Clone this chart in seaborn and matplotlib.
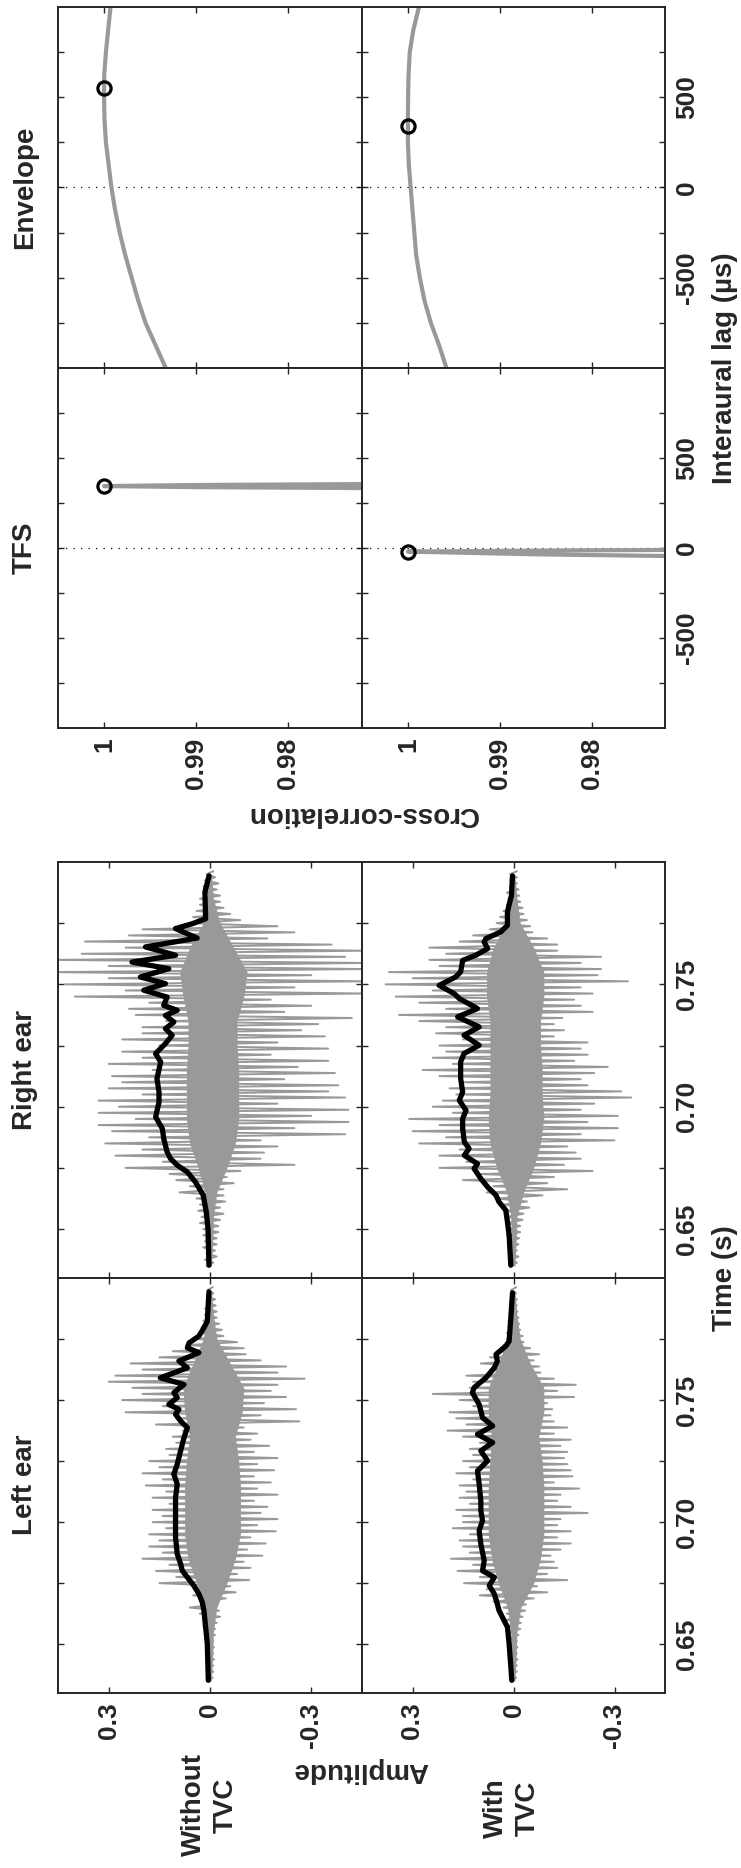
import numpy as np
import matplotlib
matplotlib.use("Agg")
import matplotlib.pyplot as plt
import seaborn as sns

# ------------------------------------------------------------------ data
# black (low-frequency) traces: time (s) and amplitude
rw_line_t = [0.6352, 0.6502, 0.6570, 0.6638, 0.6692, 0.6733, 0.6761, 0.6788, 0.6815, 0.6870,
             0.6910, 0.6958, 0.7019, 0.7060, 0.7115, 0.7183, 0.7217, 0.7258, 0.7292, 0.7319,
             0.7346, 0.7373, 0.7394, 0.7414, 0.7448, 0.7476, 0.7503, 0.7530, 0.7564, 0.7591,
             0.7619, 0.7653, 0.7689, 0.7728, 0.7748, 0.7768, 0.7877, 0.7943]
rw_line_a = [0.003, 0.006, 0.011, 0.020, 0.043, 0.067, 0.097, 0.117, 0.127, 0.137,
             0.141, 0.161, 0.151, 0.151, 0.157, 0.146, 0.161, 0.132, 0.112, 0.132,
             0.107, 0.132, 0.097, 0.137, 0.127, 0.196, 0.132, 0.206, 0.122, 0.231,
             0.102, 0.191, 0.038, 0.102, 0.052, 0.013, 0.015, 0.003]

rt_line_t = [0.6352, 0.6475, 0.6529, 0.6577, 0.6611, 0.6638, 0.6672, 0.6706, 0.6747, 0.6767,
             0.6801, 0.6829, 0.6856, 0.6910, 0.6951, 0.6985, 0.7026, 0.7060, 0.7115, 0.7183,
             0.7217, 0.7251, 0.7292, 0.7326, 0.7367, 0.7401, 0.7442, 0.7462, 0.7496, 0.7530,
             0.7551, 0.7598, 0.7619, 0.7646, 0.7673, 0.7687, 0.7714, 0.7741, 0.7796, 0.7864,
             0.7943]
rt_line_a = [0.008, 0.013, 0.018, 0.023, 0.043, 0.052, 0.077, 0.097, 0.117, 0.107,
             0.146, 0.132, 0.146, 0.151, 0.151, 0.141, 0.161, 0.151, 0.157, 0.157,
             0.147, 0.102, 0.147, 0.102, 0.166, 0.107, 0.161, 0.176, 0.221, 0.172,
             0.157, 0.151, 0.112, 0.077, 0.087, 0.082, 0.038, 0.018, 0.018, 0.006,
             0.003]

lw_line_t = [0.6352, 0.6502, 0.6570, 0.6638, 0.6672, 0.6706, 0.6740, 0.6774, 0.6801, 0.6829,
             0.6870, 0.6938, 0.7019, 0.7101, 0.7156, 0.7196, 0.7237, 0.7292, 0.7346, 0.7387,
             0.7414, 0.7442, 0.7462, 0.7482, 0.7510, 0.7530, 0.7564, 0.7591, 0.7632, 0.7660,
             0.7694, 0.7714, 0.7734, 0.7762, 0.7796, 0.7823, 0.7943]
lw_line_a = [0.005, 0.008, 0.013, 0.018, 0.023, 0.033, 0.048, 0.067, 0.082, 0.087,
             0.097, 0.102, 0.102, 0.102, 0.097, 0.107, 0.097, 0.087, 0.077, 0.067,
             0.087, 0.102, 0.092, 0.122, 0.097, 0.107, 0.077, 0.147, 0.067, 0.092,
             0.033, 0.067, 0.062, 0.033, 0.018, 0.008, 0.003]

lt_line_t = [0.6352, 0.6502, 0.6570, 0.6597, 0.6638, 0.6665, 0.6706, 0.6740, 0.6774, 0.6801,
             0.6842, 0.6910, 0.6965, 0.7006, 0.7047, 0.7087, 0.7156, 0.7210, 0.7251, 0.7292,
             0.7326, 0.7360, 0.7394, 0.7428, 0.7482, 0.7530, 0.7551, 0.7591, 0.7632, 0.7660,
             0.7687, 0.7721, 0.7741, 0.7837, 0.7939]
lt_line_a = [0.005, 0.013, 0.018, 0.028, 0.043, 0.048, 0.057, 0.072, 0.057, 0.092,
             0.087, 0.097, 0.102, 0.092, 0.097, 0.097, 0.102, 0.107, 0.077, 0.097,
             0.062, 0.107, 0.062, 0.092, 0.102, 0.122, 0.117, 0.082, 0.057, 0.048,
             0.052, 0.023, 0.013, 0.008, 0.003]

# grey fine-structure waveform: positive / negative spike extents,
# one pair every 2.5 ms starting at 0.635 s
spike_t0 = 0.635
spike_dt = 0.0025
rw_pos = [.010, .015, .010, .020, .015, .020, .020, .030, .025, .035, .030, .040, .090, .060, .100, .120,
          .250, .140, .280, .200, .310, .180, .290, .330, .220, .330, .270, .330, .200, .300, .260, .290,
          .170, .300, .200, .260, .150, .260, .200, .200, .130, .220, .240, .180, .400, .250, .430, .300,
          .460, .300, .460, .380, .250, .370, .240, .200, .060, .050, .040, .030, .030, .020, .020, .015, .010]
rw_neg = [.010, .020, .015, .020, .020, .025, .025, .030, .040, .030, .045, .040, .040, .070, .050, .090,
          .250, .150, .160, .200, .150, .400, .250, .410, .300, .410, .200, .400, .350, .380, .220, .370,
          .260, .350, .180, .350, .200, .340, .270, .320, .420, .220, .300, .180, .460, .250, .460, .300,
          .460, .460, .400, .460, .360, .170, .250, .200, .090, .060, .040, .030, .030, .020, .025, .015, .010]
rt_pos = [.010, .010, .015, .010, .015, .020, .015, .020, .020, .025, .030, .050, .080, .060, .150, .100,
          .220, .140, .220, .160, .280, .200, .300, .220, .310, .180, .240, .210, .170, .190, .150, .220,
          .270, .180, .240, .200, .220, .150, .230, .200, .280, .340, .200, .280, .350, .240, .380, .300,
          .370, .220, .250, .200, .250, .160, .120, .070, .050, .040, .030, .020, .015, .020, .010, .010, .010]
rt_neg = [.010, .015, .010, .015, .017, .020, .020, .027, .030, .047, .040, .086, .160, .100, .120, .235,
          .150, .200, .185, .160, .300, .200, .310, .220, .310, .200, .240, .350, .320, .220, .200, .240,
          .280, .180, .220, .200, .220, .120, .150, .120, .145, .235, .200, .180, .235, .200, .340, .250,
          .260, .200, .260, .130, .130, .100, .056, .050, .040, .030, .027, .020, .017, .015, .010, .010, .010]
lw_pos = [.008, .010, .008, .012, .010, .012, .012, .015, .010, .020, .020, .030, .060, .030, .050, .040,
          .150, .100, .160, .120, .200, .140, .180, .150, .180, .130, .170, .140, .170, .120, .170, .130,
          .190, .140, .200, .150, .180, .120, .130, .100, .110, .080, .160, .100, .250, .140, .260, .200,
          .230, .300, .280, .200, .235, .150, .110, .070, .040, .030, .025, .020, .015, .015, .010, .010, .008]
lw_neg = [.008, .010, .010, .012, .010, .012, .010, .015, .015, .020, .030, .027, .020, .047, .076, .060,
          .116, .080, .120, .100, .155, .110, .165, .120, .195, .140, .200, .150, .170, .130, .200, .140,
          .180, .130, .190, .140, .200, .130, .175, .120, .140, .100, .265, .150, .255, .160, .225, .180,
          .200, .280, .200, .225, .150, .106, .100, .080, .040, .035, .027, .020, .020, .017, .015, .010, .008]
lt_pos = [.008, .010, .008, .010, .012, .010, .012, .010, .015, .015, .020, .020, .030, .060, .100, .080,
          .147, .100, .166, .120, .186, .130, .150, .160, .130, .180, .150, .150, .170, .130, .160, .140,
          .160, .120, .170, .130, .150, .120, .130, .100, .150, .196, .140, .170, .190, .120, .160, .240,
          .130, .120, .140, .070, .097, .070, .050, .030, .020, .020, .015, .015, .010, .010, .010, .008, .008]
lt_neg = [.008, .010, .010, .012, .010, .012, .010, .015, .020, .022, .027, .035, .037, .060, .100, .070,
          .160, .100, .130, .120, .110, .140, .170, .130, .170, .130, .140, .220, .170, .130, .140, .195,
          .120, .175, .170, .160, .150, .160, .140, .170, .120, .160, .120, .110, .115, .100, .180, .130,
          .185, .120, .080, .076, .060, .076, .050, .030, .027, .020, .017, .015, .012, .010, .010, .008, .008]

# dense grey core of the waveform (every 10 ms from 0.635 s)
core_t = [0.635, 0.645, 0.655, 0.665, 0.675, 0.685, 0.695, 0.705, 0.715,
          0.725, 0.735, 0.745, 0.755, 0.765, 0.775, 0.785, 0.795]
rw_core_pos = [.004, .006, .008, .015, .035, .060, .070, .070, .070, .065, .065, .080, .090, .060, .020, .008, .004]
rw_core_neg = [.004, .008, .010, .020, .050, .075, .085, .085, .085, .080, .080, .100, .110, .070, .030, .010, .004]
rt_core_pos = [.004, .006, .008, .020, .050, .070, .075, .070, .070, .070, .070, .080, .080, .060, .020, .008, .004]
rt_core_neg = [.004, .008, .010, .030, .060, .080, .090, .085, .085, .080, .080, .090, .090, .060, .020, .010, .004]
lw_core_pos = [.004, .006, .008, .015, .040, .065, .075, .075, .075, .070, .060, .075, .080, .050, .020, .008, .004]
lw_core_neg = [.004, .008, .010, .020, .050, .075, .090, .090, .090, .085, .075, .095, .100, .060, .020, .010, .004]
lt_core_pos = [.004, .006, .008, .018, .045, .065, .075, .075, .075, .070, .065, .075, .075, .045, .018, .008, .004]
lt_core_neg = [.004, .008, .010, .022, .060, .080, .090, .090, .090, .085, .075, .090, .090, .050, .020, .010, .004]

# cross-correlation functions: lag (us) and correlation
env_lag = [-1000, -875, -750, -625, -500, -375, -250, -125, 0, 125, 250, 375, 500, 625, 750, 875, 1000]
env_wo = [0.9933, 0.9944, 0.9955, 0.9963, 0.9970, 0.9977, 0.9983, 0.9988, 0.9992, 0.9995,
          0.9998, 0.99995, 1.0000, 0.99998, 0.9998, 0.99955, 0.9993]
env_w = [0.9958, 0.9966, 0.9975, 0.9982, 0.9987, 0.9991, 0.9993, 0.9995, 0.9997, 0.9999,
         1.0000, 1.0000, 0.99998, 0.99993, 0.9998, 0.9994, 0.9988]
tfs_wo_lag = [331, 338, 344, 350, 357]
tfs_wo = [0.965, 0.990, 1.000, 0.990, 0.965]
tfs_w_lag = [-52, -36, -20, -14, -8]
tfs_w = [0.960, 0.985, 1.000, 0.985, 0.960]
peak_env = [(550, 1.0), (339, 1.0)]
peak_tfs = [(344, 1.0), (-20, 1.0)]

time_ticks = [0.65, 0.675, 0.70, 0.725, 0.75, 0.775]
time_labels = ["0.65", "", "0.70", "", "0.75", ""]
amp_ticks = [0.3, 0.0, -0.3]
amp_labels = ["0.3", "0", "-0.3"]
lag_ticks = [-750, -500, -250, 0, 250, 500, 750]
lag_labels = ["", "-500", "", "0", "", "500", ""]
corr_ticks = [1.0, 0.99, 0.98]
corr_labels = ["1", "0.99", "0.98"]

# ------------------------------------------------------------------ style
sns.set_style("ticks")
plt.rcParams["font.family"] = ["Liberation Sans", "DejaVu Sans"]
plt.rcParams["font.weight"] = "bold"
plt.rcParams["axes.linewidth"] = 1.4

GREY = "#999999"
FS_TICK = 19
FS_LAB = 20

W, H = 741, 1868
fig = plt.figure(figsize=(W / 100, H / 100), dpi=100)


def box(x0, y0, x1, y1):
    return [x0 / W, 1 - y1 / H, (x1 - x0) / W, (y1 - y0) / H]


colx = [(58, 362), (362, 665)]
rows = {"env": (7, 368), "tfs": (368, 728), "right": (862, 1278), "left": (1278, 1693)}


def style(ax):
    ax.tick_params(which="both", direction="in", length=4, width=1.0,
                   top=True, bottom=True, left=True, right=True,
                   labelsize=FS_TICK, pad=7)
    for lab in ax.get_xticklabels() + ax.get_yticklabels():
        lab.set_fontweight("bold")
    ax.set_xlabel("")
    ax.set_ylabel("")


def zigzag(pos, neg):
    n = len(pos)
    t = spike_t0 + spike_dt * np.arange(n)
    tt = np.empty(2 * n)
    aa = np.empty(2 * n)
    tt[0::2] = t
    tt[1::2] = t + spike_dt / 2
    aa[0::2] = pos
    aa[1::2] = -np.asarray(neg)
    return aa, tt


wave = {("right", 0): (rw_pos, rw_neg, rw_core_pos, rw_core_neg, rw_line_t, rw_line_a),
        ("right", 1): (rt_pos, rt_neg, rt_core_pos, rt_core_neg, rt_line_t, rt_line_a),
        ("left", 0): (lw_pos, lw_neg, lw_core_pos, lw_core_neg, lw_line_t, lw_line_a),
        ("left", 1): (lt_pos, lt_neg, lt_core_pos, lt_core_neg, lt_line_t, lt_line_a)}

for (row, c), (pos, neg, cp, cn, lt, la) in wave.items():
    ax = fig.add_axes(box(colx[c][0], rows[row][0], colx[c][1], rows[row][1]))
    ax.fill_betweenx(core_t, cp, -np.asarray(cn), color=GREY, lw=0, zorder=1)
    aa, tt = zigzag(pos, neg)
    sns.lineplot(x=aa, y=tt, sort=False, estimator=None, color=GREY, lw=1.4, ax=ax, zorder=2)
    sns.lineplot(x=la, y=lt, sort=False, estimator=None, color="black", lw=3.8, ax=ax, zorder=3)
    ax.set_xlim(0.45, -0.45)
    ax.set_ylim(0.63, 0.80)
    ax.set_xticks(amp_ticks)
    ax.set_yticks(time_ticks)
    if row == "left":
        ax.set_xticklabels(amp_labels, rotation=90)
    else:
        ax.set_xticklabels([])
    if c == 1:
        ax.yaxis.tick_right()
        ax.set_yticklabels(time_labels, rotation=90, va="center")
    else:
        ax.set_yticklabels([])
    style(ax)

xc = {("env", 0): (env_lag, env_wo, peak_env[0]),
      ("env", 1): (env_lag, env_w, peak_env[1]),
      ("tfs", 0): (tfs_wo_lag, tfs_wo, peak_tfs[0]),
      ("tfs", 1): (tfs_w_lag, tfs_w, peak_tfs[1])}

for (row, c), (lags, corr, pk) in xc.items():
    ax = fig.add_axes(box(colx[c][0], rows[row][0], colx[c][1], rows[row][1]))
    ax.axhline(0, color="black", lw=0.9, ls=(0, (1, 5)), zorder=1)
    sns.lineplot(x=corr, y=lags, sort=False, estimator=None, color=GREY, lw=3.0, ax=ax)
    ax.plot([pk[1]], [pk[0]], marker="o", ms=9.5, mfc="none", mec="black", mew=2.3, zorder=5)
    ax.set_xlim(1.005, 0.972)
    ax.set_ylim(-1000, 1000)
    ax.set_xticks(corr_ticks)
    ax.set_yticks(lag_ticks)
    if row == "tfs":
        ax.set_xticklabels(corr_labels, rotation=90)
    else:
        ax.set_xticklabels([])
    if c == 1:
        ax.yaxis.tick_right()
        ax.set_yticklabels(lag_labels, rotation=90, va="center")
    else:
        ax.set_yticklabels([])
    style(ax)


def ftext(x, y, s, rot, **kw):
    fig.text(x / W, 1 - y / H, s, rotation=rot, ha="center", va="center",
             fontsize=FS_LAB, fontweight="bold", **kw)


ftext(25, 187, "Envelope", 90)
ftext(25, 548, "TFS", 90)
ftext(25, 1070, "Right ear", 90)
ftext(25, 1485, "Left ear", 90)
ftext(362, 814, "Cross-correlation", 180)
ftext(361, 1770, "Amplitude", 180)
ftext(725, 1278, "Time (s)", 90)
ftext(725, 368, "Interaural lag (µs)", 90)
ftext(210, 1805, "Without\nTVC", 90, linespacing=1.3, multialignment="center")
ftext(512, 1808, "With\nTVC", 90, linespacing=1.3, multialignment="center")

fig.savefig("out.png", dpi=100)
